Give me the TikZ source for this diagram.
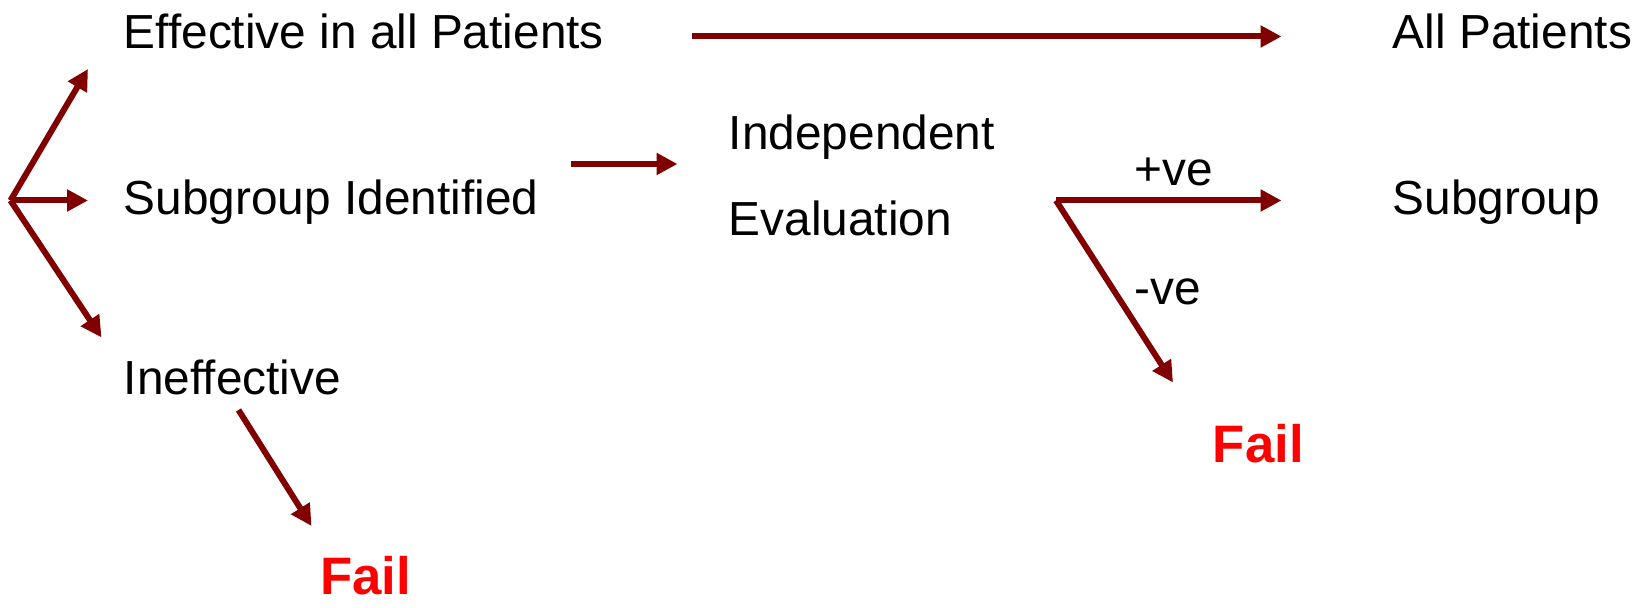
\documentclass[tikz,border=0pt]{standalone}
\usepackage{fontspec}
\setmainfont{Liberation Sans}
\usepackage{tikz}
\usetikzlibrary{arrows.meta}

\definecolor{arrowred}{RGB}{128,0,0}
\definecolor{failred}{RGB}{255,0,0}

\begin{document}
\begin{tikzpicture}[
        txt/.style={anchor=base west, inner sep=0pt, font=\fontsize{27.2}{32}\selectfont},
        failtxt/.style={anchor=base west, inner sep=0pt, text=failred, font=\fontsize{30}{36}\selectfont\bfseries},
        flow/.style={draw=arrowred, line width=0.12cm, -{Triangle[length=0.42cm, width=0.42cm]}}
    ]
    \useasboundingbox (0, 0) rectangle (32.78, 12.16);

    % ================= Outcomes (left column) =================
    \node[txt] (effective) at (2.47, 11.18) {Effective in all Patients};
    \node[txt] (subgroup_id) at (2.47, 7.87) {Subgroup Identified};
    \node[txt] (ineffective) at (2.47, 4.26) {Ineffective};
    \node[failtxt] (fail_L) at (6.40, 0.26) {Fail};

    % ================= Evaluation (middle) =================
    \node[txt] (indep) at (14.57, 9.17) {Independent};
    \node[txt] (evaluation) at (14.57, 7.44) {Evaluation};
    \node[txt] (plus) at (22.68, 8.44) {+ve};
    \node[txt] (minus) at (22.68, 6.06) {-ve};
    \node[failtxt] (fail_R) at (24.25, 2.90) {Fail};

    % ================= Result (right column) =================
    \node[txt] (all_pat) at (27.85, 11.18) {All Patients};
    \node[txt] (subgroup) at (27.85, 7.87) {Subgroup};

    % arrow end points
    \coordinate (split_L) at (0.21, 8.15);
    \coordinate (to_eff) at (1.76, 10.78);
    \coordinate (to_sub) at (1.76, 8.15);
    \coordinate (to_ineff) at (2.03, 5.41);
    \coordinate (eff_start) at (13.84, 11.43);
    \coordinate (eff_end) at (25.63, 11.43);
    \coordinate (sub_start) at (11.41, 8.88);
    \coordinate (sub_end) at (13.55, 8.88);
    \coordinate (split_R) at (21.12, 8.15);
    \coordinate (pos_end) at (25.63, 8.15);
    \coordinate (neg_end) at (23.46, 4.51);
    \coordinate (ineff_start) at (4.77, 3.96);
    \coordinate (ineff_end) at (6.23, 1.64);

    % Fork on the left
    \draw[flow] (split_L) -- (to_eff);
    \draw[flow] (split_L) -- (to_sub);
    \draw[flow] (split_L) -- (to_ineff);

    % Straight on
    \draw[flow] (eff_start) -- (eff_end);
    \draw[flow] (sub_start) -- (sub_end);
    \draw[flow] (ineff_start) -- (ineff_end);

    % Fork after the evaluation
    \draw[flow] (split_R) -- (pos_end);
    \draw[flow] (split_R) -- (neg_end);

\end{tikzpicture}
\end{document}
